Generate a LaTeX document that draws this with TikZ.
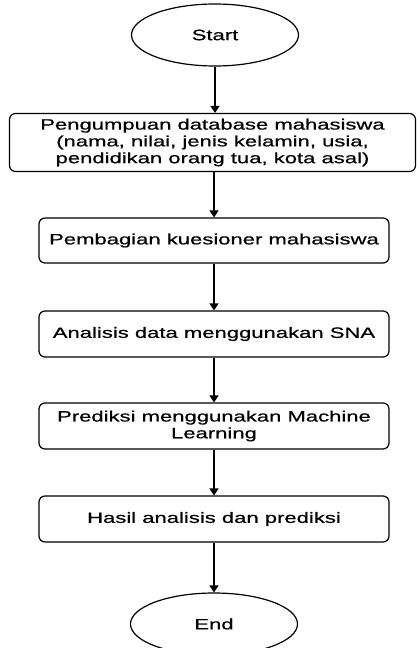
\documentclass[tikz,border=0pt]{standalone}
\usepackage{fontspec}
\setmainfont{Liberation Sans}[FakeStretch=1.47,FakeBold=0.6]
\usetikzlibrary{shapes.geometric,arrows.meta}
\begin{document}
\begin{tikzpicture}[x=1pt,y=1pt,
  every node/.style={font=\fontsize{15}{16.8}\selectfont, text=black},
  terminal/.style={draw, line width=1.2pt, ellipse, minimum width=167pt, minimum height=62pt, inner sep=0pt},
  procbox/.style={draw, line width=1.2pt, rectangle, rounded corners=6pt, minimum width=350pt, inner sep=0pt, align=center},
  flow/.style={line width=1.2pt, -{Triangle[width=9pt,length=7pt]}}]
\useasboundingbox (0,0) rectangle (417,-648);
\node[terminal] (start) at (215,-35) {Start};
\node[procbox, minimum width=406pt, minimum height=58pt] (b1) at (212.5,-142.5)
  {Pengumpuan database mahasiswa\\(nama, nilai, jenis kelamin, usia,\\pendidikan orang tua, kota asal)};
\node[procbox, minimum height=45pt] (b2) at (214,-240.5) {Pembagian kuesioner mahasiswa};
\node[procbox, minimum height=46pt] (b3) at (214,-334) {Analisis data menggunakan SNA};
\node[procbox, minimum height=46pt] (b4) at (214,-426) {Prediksi menggunakan Machine\\Learning};
\node[procbox, minimum height=46pt] (b5) at (214,-519) {Hasil analisis dan prediksi};
\node[terminal] (end) at (214,-624) {End};
\draw[flow] (start.south) -- (start.south |- b1.north);
\draw[flow] (b2.north |- b1.south) -- (b2.north);
\draw[flow] (b2) -- (b3);
\draw[flow] (b3) -- (b4);
\draw[flow] (b4) -- (b5);
\draw[flow] (b5) -- (end);
\end{tikzpicture}
\end{document}
